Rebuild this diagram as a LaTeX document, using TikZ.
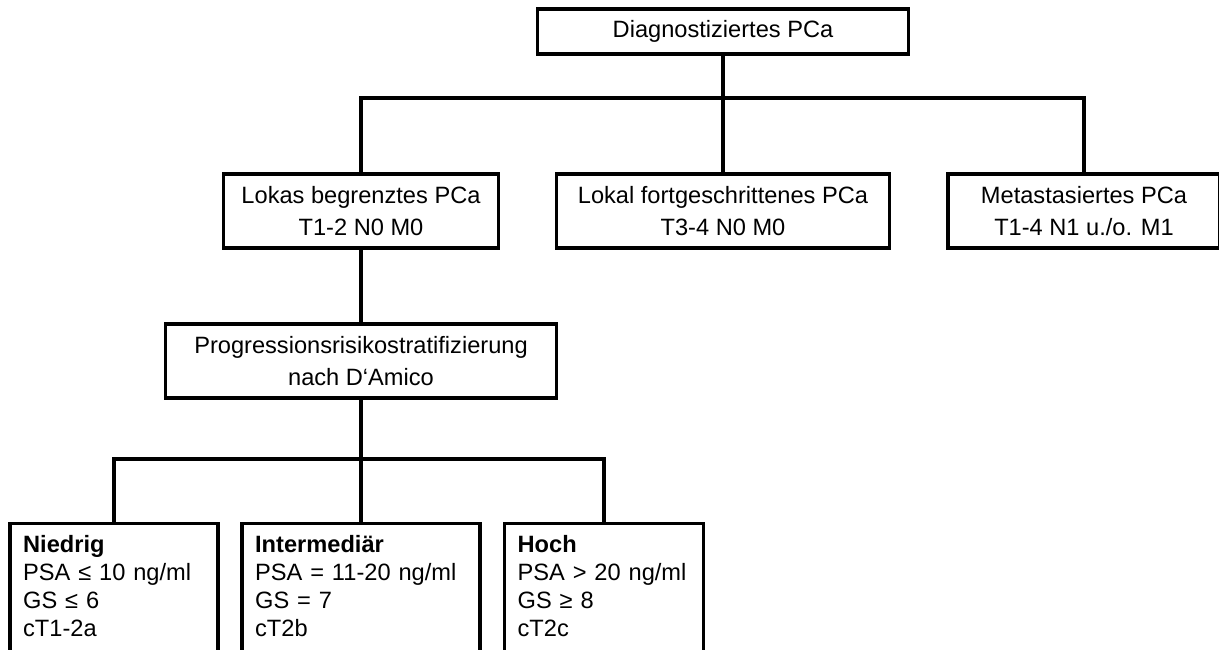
\documentclass[tikz,border=0pt]{standalone}
\usepackage{fontspec}
\setmainfont{Liberation Sans}

\begin{document}
\begin{tikzpicture} [x=0.025cm, y=-0.025cm,
                     box/.style={draw, line width=2.2pt, align=center, inner sep=0pt, minimum height=1.85cm, font=\fontsize{16.8pt}{22.5pt}\selectfont},
                     risk/.style={draw, line width=2.2pt, anchor=north, align=left, inner xsep=0.33cm, inner ysep=9pt, text depth=4cm, font=\fontsize{16.8pt}{19.8pt}\selectfont},
                     line/.style={line width=2.2pt}]
    \useasboundingbox (0,0) rectangle (1219,650);
    \clip (0,0) rectangle (1219,650);

    \node[box, minimum width=9.275cm, minimum height=1.125cm] (diag) at (723,31.5) {Diagnostiziertes PCa};

    \node[box, minimum width=6.875cm] (lokal) at (361,211) {Lokas begrenztes PCa\\T1-2 N0 M0};
    \node[box, minimum width=8.325cm] (fort) at (723,211) {Lokal fortgeschrittenes PCa\\T3-4 N0 M0};
    \node[box, minimum width=6.8cm] (meta) at (1084,211) {Metastasiertes PCa\\T1-4 N1 u./o. M1};

    \node[box, minimum width=9.75cm] (prog) at (361,361) {Progressionsrisikostratifizierung\\nach D‘Amico};

    \node[risk, text width=5.2cm-0.66cm] (niedrig) at (114,521.5) {\textbf{Niedrig}\\PSA ≤ 10 ng/ml\\GS ≤ 6\\cT1-2a};
    \node[risk, text width=5.95cm-0.66cm] (inter) at (361,521.5) {\textbf{Intermediär}\\PSA = 11-20 ng/ml\\GS = 7\\cT2b};
    \node[risk, text width=4.975cm-0.66cm] (hoch) at (604,521.5) {\textbf{Hoch}\\PSA > 20 ng/ml\\GS ≥ 8\\cT2c};

    % stage branches
    \coordinate (stage-bus) at (723,98);
    \draw[line] (diag.south) -- (stage-bus);
    \draw[line] (lokal.north) |- (stage-bus) -| (meta.north);
    \draw[line] (fort.north) -- (fort.north |- stage-bus);

    \draw[line] (lokal.south) -- (prog.north);

    % risk branches
    \coordinate (risk-bus) at (361,459);
    \draw[line] (prog.south) -- (risk-bus);
    \draw[line] (niedrig.north) |- (risk-bus) -| (hoch.north);
    \draw[line] (inter.north) -- (inter.north |- risk-bus);

\end{tikzpicture}
\end{document}
